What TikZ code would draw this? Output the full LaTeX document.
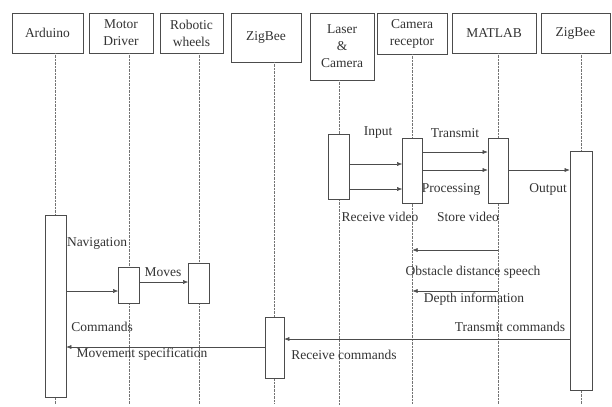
\documentclass[tikz,border=0pt]{standalone}
\usepackage{fontspec}
\setmainfont{Liberation Serif}
\usetikzlibrary{arrows.meta, positioning}
\tikzset{lifeline/.style={densely dotted, draw=black!55}}
\tikzset{msg/.style={draw=black!70, line width=0.5bp, -{Latex[length=5bp,width=4bp]}}}

\begin{document}
\begin{tikzpicture}[x=1bp, y=-1bp]
	% Default action for each node
	\tikzstyle{every node}=[font=\fontsize{13.5bp}{17bp}\selectfont, text=black!80, inner sep=0pt];
	\tikzstyle{head}=[draw=black!70, line width=0.6bp, fill=white, align=center];
	\tikzstyle{bar}=[draw=black!70, line width=0.6bp, fill=white];

	\useasboundingbox (0,0) rectangle (612,406);

	% Heads
	\node[head, minimum width=71bp, minimum height=40bp] (ard) at (47.5,33) {Arduino};
	\node[head, minimum width=64bp, minimum height=40bp] (mot) at (121,33) {Motor\\Driver};
	\node[head, minimum width=63bp, minimum height=40bp] (rob) at (191.5,33) {Robotic\\wheels};
	\node[head, minimum width=70bp, minimum height=49bp] (zbA) at (266,37.5) {ZigBee};
	\node[head, minimum width=64bp, minimum height=67bp] (las) at (342,46.5) {Laser\\\&\\Camera};
	\node[head, minimum width=70bp, minimum height=41bp] (cam) at (412,33.5) {Camera\\receptor};
	\node[head, minimum width=84bp, minimum height=40bp] (mat) at (494,33) {MATLAB};
	\node[head, minimum width=69bp, minimum height=40bp] (zbB) at (575.5,33) {ZigBee};

	% Lifelines
	\coordinate (ardEnd) at (55.5,404);
	\coordinate (motEnd) at (129,404);
	\coordinate (robEnd) at (199,404);
	\coordinate (zbAEnd) at (274.5,404);
	\coordinate (lasEnd) at (339,404);
	\coordinate (camEnd) at (412.5,404);
	\coordinate (matEnd) at (498,404);
	\coordinate (zbBEnd) at (581,404);

	\draw[lifeline] (ard.south -| ardEnd) -- (ardEnd);
	\draw[lifeline] (mot.south -| motEnd) -- (motEnd);
	\draw[lifeline] (rob.south -| robEnd) -- (robEnd);
	\draw[lifeline] (zbA.south -| zbAEnd) -- (zbAEnd);
	\draw[lifeline] (las.south -| lasEnd) -- (lasEnd);
	\draw[lifeline] (cam.south -| camEnd) -- (camEnd);
	\draw[lifeline] (mat.south -| matEnd) -- (matEnd);
	\draw[lifeline] (zbB.south -| zbBEnd) -- (zbBEnd);

	% Activation bars
	\node[bar, minimum width=21bp, minimum height=182bp] (aArd) at (55.5,306) {};
	\node[bar, minimum width=21bp, minimum height=36bp] (aMot) at (129,285) {};
	\node[bar, minimum width=21bp, minimum height=40bp] (aRob) at (199,283) {};
	\node[bar, minimum width=19bp, minimum height=61bp] (aZbA) at (274.5,347.5) {};
	\node[bar, minimum width=21bp, minimum height=65bp] (aLas) at (339,166.5) {};
	\node[bar, minimum width=20bp, minimum height=65bp] (aCam) at (412.5,170.5) {};
	\node[bar, minimum width=20bp, minimum height=65bp] (aMat) at (498,170.5) {};
	\node[bar, minimum width=22bp, minimum height=239bp] (aZbB) at (581,270.5) {};

	% Messages
	\draw[msg] (aLas.east |- 0,164) -- (aCam.west |- 0,164);
	\draw[msg] (aLas.east |- 0,189) -- (aCam.west |- 0,189);
	\draw[msg] (aCam.east |- 0,152) -- (aMat.west |- 0,152);
	\draw[msg] (aCam.east |- 0,170) -- (aMat.west |- 0,170);
	\draw[msg] (aMat.east |- 0,170) -- (aZbB.west |- 0,170);
	\draw[msg] (matEnd |- 0,250) -- (camEnd |- 0,250);
	\draw[msg] (matEnd |- 0,291) -- (camEnd |- 0,291);
	\draw[msg] (aZbB.west |- 0,339) -- (aZbA.east |- 0,339);
	\draw[msg] (aZbA.west |- 0,347) -- (aArd.east |- 0,347);
	\draw[msg] (aArd.east |- 0,291) -- (aMot.west |- 0,291);
	\draw[msg] (aMot.east |- 0,282) -- (aRob.west |- 0,282);

	% Labels
	\node (lInput) at (378,133) {Input};
	\node (lTransmit) at (455,133) {Transmit};
	\node (lProcessing) at (451,189) {Processing};
	\node (lOutput) at (548,189) {Output};
	\node (lReceiveVideo) at (380,217) {Receive video};
	\node (lStoreVideo) at (468,217) {Store video};
	\node (lObstacle) at (473,272) {Obstacle distance speech};
	\node (lDepth) at (474,299) {Depth information};
	\node (lTransmitCmd) at (510,327) {Transmit commands};
	\node (lReceiveCmd) at (344,355) {Receive commands};
	\node (lCommands) at (102,327) {Commands};
	\node (lMovement) at (142,354) {Movement specification};
	\node (lNavigation) at (97,243) {Navigation};
	\node (lMoves) at (163,272) {Moves};
\end{tikzpicture}
\end{document}
